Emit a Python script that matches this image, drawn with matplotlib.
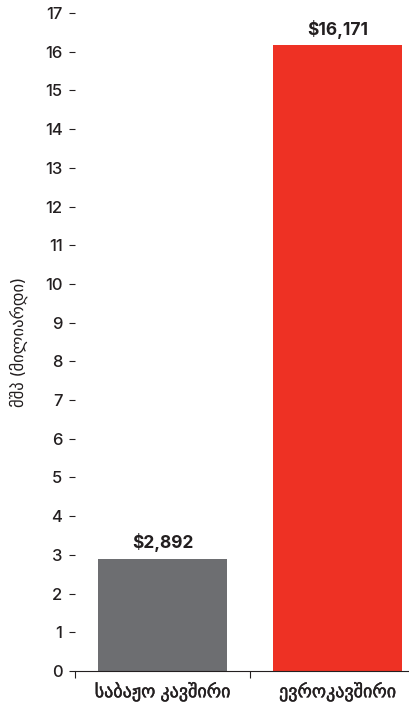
import matplotlib.pyplot as plt
import matplotlib as mpl
import matplotlib.patheffects as pe

# GDP comparison, billions
categories = ['საბაჟო კავშირი', 'ევროკავშირი']
values = [2.892, 16.171]
bar_labels = ['$2,892', '$16,171']
bar_colors = ['#6d6e71', '#ee3124']
yticks = list(range(0, 18))

mpl.rcParams['font.family'] = ['Inter', 'DejaVu Sans']
INK = '#231f20'
# a touch of stroke to get a medium weight for the georgian text
thicken = [pe.withStroke(linewidth=0.3, foreground=INK)]

fig = plt.figure(figsize=(4.10, 7.02), dpi=100)
W, H = 410, 702
# axes right edge runs past the figure, like the reference
ax = fig.add_axes([75 / W, (H - 671) / H, 350 / W, 658 / H])

ax.bar(range(len(values)), values, width=0.74, color=bar_colors)
for i, (v, lab) in enumerate(zip(values, bar_labels)):
    ax.text(i, v + 0.17, lab, ha='center', va='bottom', fontsize=12.5,
            fontweight='bold', color=INK)

ax.set_xlim(-0.5, 1.5)
ax.set_ylim(0, 17)
ax.set_yticks(yticks)
ax.set_yticklabels([str(t) for t in yticks], fontsize=12, fontweight='medium',
                   color=INK)
ax.set_xticks([0, 1])
ax.set_xticklabels(categories, fontsize=13, color=INK)
for t in ax.get_xticklabels():
    t.set_path_effects(thicken)
ax.set_xticks([-0.5, 0.5, 1.5], minor=True)

for s in ['top', 'right', 'left']:
    ax.spines[s].set_visible(False)
ax.spines['bottom'].set_color(INK)
ax.spines['bottom'].set_linewidth(0.8)

ax.tick_params(axis='y', length=4, width=0.8, pad=5, color=INK)
ax.tick_params(axis='x', which='major', length=0, pad=8)
ax.tick_params(axis='x', which='minor', length=5, width=0.8, color=INK)

ax.set_ylabel('მშპ (მილიარდი)', fontsize=12, color=INK, labelpad=12)

fig.savefig('out.png', dpi=100)
